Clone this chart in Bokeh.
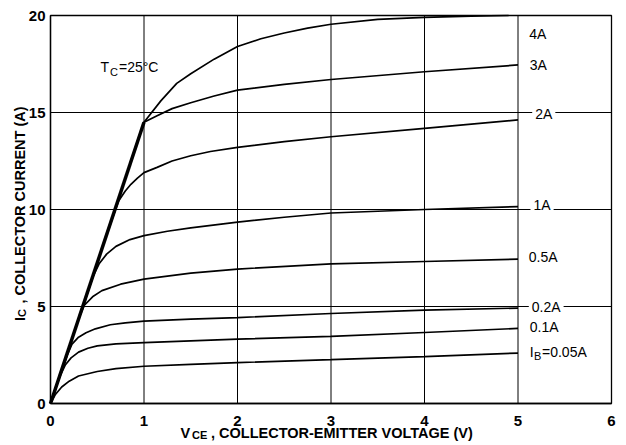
import math
from bokeh.plotting import figure
from bokeh.models import Range1d, Label, FixedTicker
from bokeh.embed import file_html
from bokeh.resources import INLINE

# ---------------- data ----------------
x_ticks = [0, 1, 2, 3, 4, 5, 6]
y_ticks = [0, 5, 10, 15, 20]

sat_vce = [0, 1.0]
sat_ic = [0, 14.5]

vce_4a = [0, 1.0, 1.18, 1.35, 1.5, 1.75, 2.0, 2.25, 2.5, 2.75, 3.0, 3.5, 4.0, 4.5, 4.9]
ic_4a = [0, 14.5, 15.6, 16.5, 17.0, 17.75, 18.4, 18.8, 19.1, 19.35, 19.55, 19.8, 19.9, 19.97, 20.0]

vce_3a = [0, 1.0, 1.14, 1.3, 1.5, 1.75, 2.0, 2.5, 3.0, 4.0, 5.0]
ic_3a = [0, 14.5, 14.83, 15.2, 15.5, 15.85, 16.15, 16.45, 16.7, 17.1, 17.45]

vce_2a = [0, 0.65, 0.73, 0.8, 0.86, 0.93, 1.0, 1.14, 1.3, 1.5, 1.71, 2.0, 2.5, 3.0, 4.0, 5.0]
ic_2a = [0, 9.4, 10.45, 10.95, 11.3, 11.62, 11.9, 12.17, 12.5, 12.77, 12.99, 13.2, 13.5, 13.75, 14.18, 14.62]

vce_1a = [0, 0.3, 0.45, 0.52, 0.6, 0.7, 0.85, 1.0, 1.25, 1.5, 2.0, 2.5, 3.0, 4.0, 5.0]
ic_1a = [0, 4.35, 6.5, 7.2, 7.7, 8.1, 8.45, 8.65, 8.88, 9.05, 9.35, 9.6, 9.82, 10.0, 10.15]

vce_05a = [0, 0.2, 0.3, 0.36, 0.45, 0.55, 0.75, 1.0, 1.5, 2.0, 3.0, 4.0, 5.0]
ic_05a = [0, 2.9, 4.35, 5.05, 5.5, 5.82, 6.15, 6.41, 6.72, 6.93, 7.2, 7.32, 7.44]

vce_02a = [0, 0.1, 0.18, 0.23, 0.3, 0.38, 0.48, 0.64, 0.8, 1.0, 1.5, 2.0, 3.0, 4.0, 5.0]
ic_02a = [0, 1.4, 2.5, 3.06, 3.42, 3.65, 3.85, 4.06, 4.16, 4.25, 4.35, 4.43, 4.64, 4.81, 4.92]

vce_01a = [0, 0.05, 0.1, 0.16, 0.22, 0.3, 0.4, 0.5, 0.7, 1.0, 1.5, 2.0, 3.0, 4.0, 5.0]
ic_01a = [0, 0.75, 1.4, 2.0, 2.35, 2.65, 2.85, 2.97, 3.07, 3.14, 3.23, 3.32, 3.46, 3.66, 3.87]

vce_005a = [0, 0.05, 0.12, 0.2, 0.3, 0.5, 0.7, 1.0, 1.5, 2.0, 3.0, 4.0, 5.0]
ic_005a = [0, 0.45, 0.85, 1.15, 1.42, 1.65, 1.8, 1.92, 2.02, 2.11, 2.26, 2.42, 2.6]

curves = [
    (vce_4a, ic_4a), (vce_3a, ic_3a), (vce_2a, ic_2a), (vce_1a, ic_1a),
    (vce_05a, ic_05a), (vce_02a, ic_02a), (vce_01a, ic_01a), (vce_005a, ic_005a),
]

# ---------------- layout: frame fills the canvas, axes fixed inside ----------------
W, H = 626, 445
LEFT, RIGHT, TOP, BOTTOM = 50, 611, 15, 403   # pixel box of the 0..6 x 0..20 area
xs_per_px = (x_ticks[-1] - x_ticks[0]) / (RIGHT - LEFT)
ys_per_px = (y_ticks[-1] - y_ticks[0]) / (BOTTOM - TOP)
x_rng = Range1d(x_ticks[0] - LEFT * xs_per_px, x_ticks[-1] + (W - RIGHT) * xs_per_px)
y_rng = Range1d(y_ticks[0] - (H - BOTTOM) * ys_per_px, y_ticks[-1] + TOP * ys_per_px)

p = figure(width=W, height=H, output_backend="svg", toolbar_location=None,
           x_range=x_rng, y_range=y_rng,
           min_border_left=0, min_border_right=0, min_border_top=0, min_border_bottom=0)
p.background_fill_color = "white"
p.border_fill_color = "white"
p.outline_line_color = None
p.xgrid.visible = False
p.ygrid.visible = False

p.xaxis.fixed_location = y_ticks[0]
p.yaxis.fixed_location = x_ticks[0]
p.xaxis.bounds = (x_ticks[0], x_ticks[-1])
p.yaxis.bounds = (y_ticks[0], y_ticks[-1])

for ax in (p.xaxis[0], p.yaxis[0]):
    ax.major_tick_out = 0
    ax.major_tick_in = 0
    ax.minor_tick_out = 0
    ax.minor_tick_in = 0
    ax.axis_line_color = "black"
    ax.axis_line_width = 1.3
    ax.major_label_text_font = "Liberation Sans"
    ax.major_label_text_font_style = "bold"
    ax.major_label_text_font_size = "15px"
    ax.major_label_text_color = "black"

p.xaxis.ticker = FixedTicker(ticks=x_ticks)
p.yaxis.ticker = FixedTicker(ticks=y_ticks)
p.xaxis.major_label_standoff = 12
p.yaxis.major_label_standoff = 5

# grid lines (inner ticks) and the plot box
gx = x_ticks[1:-1]
gy = y_ticks[1:-1]
p.segment(x0=gx, y0=[y_ticks[0]] * len(gx), x1=gx, y1=[y_ticks[-1]] * len(gx),
          line_color="black", line_width=1.0)
p.segment(x0=[x_ticks[0]] * len(gy), y0=gy, x1=[x_ticks[-1]] * len(gy), y1=gy,
          line_color="black", line_width=1.0)
p.quad(left=[x_ticks[0]], right=[x_ticks[-1]], bottom=[y_ticks[0]], top=[y_ticks[-1]],
       fill_color=None, line_color="black", line_width=1.3)

# curves
for xs, ys in curves:
    p.line(xs, ys, line_color="black", line_width=1.7)
p.line(sat_vce, sat_ic, line_color="black", line_width=3.5)

# ---------------- annotations ----------------
def lab(text, px, py, size="14px", bold=False, bg=False, angle=0.0):
    kw = dict(x=px, y=py, x_units="canvas", y_units="canvas", text=text,
              text_font="Liberation Sans", text_font_size=size,
              text_font_style="bold" if bold else "normal",
              text_color="black", text_align="left", text_baseline="middle",
              angle=angle)
    if bg:
        kw.update(background_fill_color="white", padding=3)
    p.add_layout(Label(**kw))

# curve labels at the right
lab("4A", 528.7, 33)
lab("3A", 529.3, 64.3)
lab("2A", 531.7, 113.3, bg=True)
lab("1A", 530, 204.3, bg=True)
lab("0.5A", 528.3, 256.7)
lab("0.2A", 528.3, 306, bg=True)
lab("0.1A", 529.3, 326.7)
lab("I", 529.3, 351)
lab("B", 533.5, 355, size="11px")
lab("=0.05A", 541.5, 351)

# case temperature
lab("T", 100, 66)
lab("C", 109.5, 71, size="11px")
lab("=25°C", 118.5, 66)

# x axis title
lab("V", 180, 432.5, size="14.5px", bold=True)
lab("CE", 191.5, 434.5, size="11px", bold=True)
lab(", COLLECTOR-EMITTER VOLTAGE (V)", 210.5, 432.5, size="14.5px", bold=True)

# y axis title (rotated)
lab("I", 19.5, 320.5, size="14.5px", bold=True, angle=math.pi / 2)
lab("C", 21.5, 316.5, size="11px", bold=True, angle=math.pi / 2)
lab(", COLLECTOR CURRENT (A)", 19.5, 303, size="14.5px", bold=True, angle=math.pi / 2)

open("out.html", "w").write(file_html(p, INLINE))
